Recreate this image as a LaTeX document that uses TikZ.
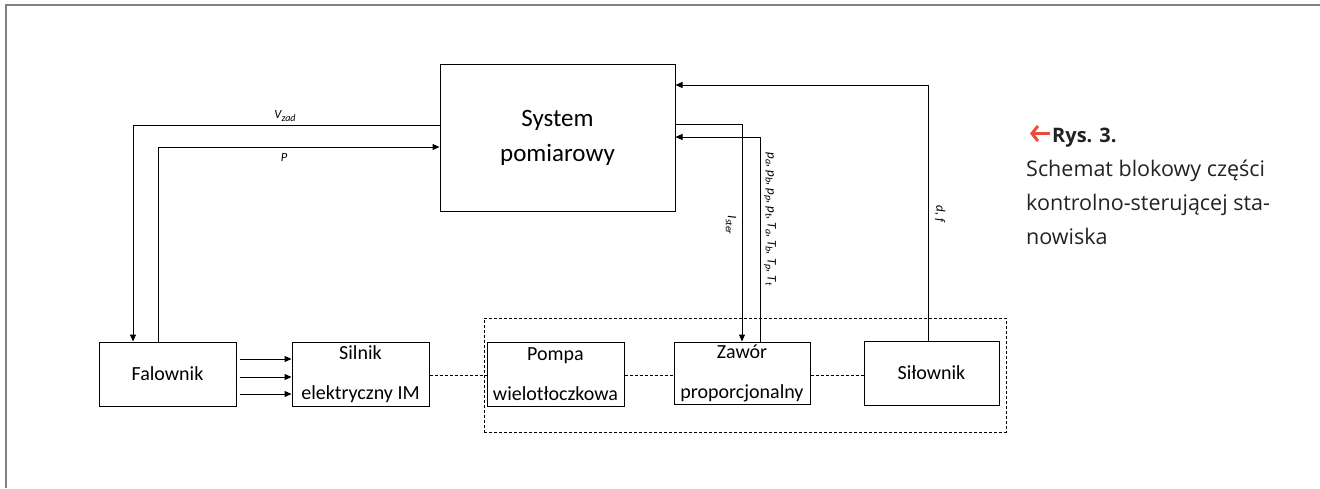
\documentclass[tikz,border=0pt]{standalone}
\usepackage{fontspec}
\setmainfont{Carlito}
\newfontfamily\capfont{Open Sans}
\usetikzlibrary{arrows.meta}
\definecolor{framegray}{RGB}{128,128,128}
\definecolor{capred}{RGB}{232,78,58}
\definecolor{captext}{RGB}{34,34,34}
\newcommand\lsub[1]{\raisebox{-2.2pt}{\fontsize{10}{10}\selectfont #1}}
\tikzset{
  blk/.style={draw, line width=1pt, inner sep=0pt, align=center},
  arr/.style={line width=1pt, -{Triangle[length=7pt,width=6pt]}},
  dsh/.style={line width=0.8pt, dash pattern=on 3pt off 2pt},
  lbl/.style={font=\itshape\fontsize{12.5}{14}\selectfont, inner sep=0pt},
  rlbl/.style={font=\itshape\fontsize{13}{15}\selectfont, inner sep=0pt, rotate=-90},
}
\begin{document}
\begin{tikzpicture}[x=1pt,y=-1pt]
\useasboundingbox (0,0) rectangle (1320,488);
\draw[framegray, line width=1.6pt] (6,488) -- (6,5) -- (1320,5);

% blocks
\node[blk, minimum width=235pt, minimum height=147pt, font=\fontsize{25}{35}\selectfont] (sys) at (557.5,137.5) {System\\pomiarowy};
\node[blk, minimum width=137pt, minimum height=64pt, font=\fontsize{20}{23}\selectfont] (fal) at (167.5,374) {Falownik};
\node[blk, minimum width=137pt, minimum height=64pt, font=\fontsize{20}{40}\selectfont] (sil) at (360.5,374) {Silnik\\elektryczny IM};
\node[blk, minimum width=137pt, minimum height=64pt, font=\fontsize{20}{40}\selectfont] (pom) at (555.5,374) {Pompa\\wielotłoczkowa};
\node[blk, minimum width=136pt, minimum height=62pt, font=\fontsize{20}{40}\selectfont] (zaw) at (742,373) {Zawór\\proporcjonalny};
\node[blk, minimum width=135pt, minimum height=64pt, font=\fontsize{20}{23}\selectfont] (sit) at (931.5,373) {Siłownik};
\node[dsh, draw, minimum width=522pt, minimum height=114pt, inner sep=0pt] (grp) at (745,375) {};

% bend points
\coordinate (vz) at (133,125);
\coordinate (pp) at (158,147);
\coordinate (is) at (742,124);
\coordinate (pa) at (760,137);
\coordinate (df) at (928,85);
\coordinate (dl) at (0,375);

% connectors
\draw[arr] (sys.west|-vz) -- (vz) -- (fal.north-|vz);
\draw[arr] (fal.north-|pp) -- (pp) -- (sys.west|-pp);
\foreach \dy in {-15,3,20}
  \draw[arr] ([shift={(3,\dy)}]fal.east) -- ([shift={(0,\dy)}]sil.west);
\draw[arr] (sys.east|-is) -- (is) -- (zaw.north-|is);
\draw[arr] (zaw.north-|pa) -- (pa) -- (sys.east|-pa);
\draw[arr] (sit.north-|df) -- (df) -- (sys.east|-df);
\draw[dsh] (sil.east|-dl) -- (pom.west|-dl);
\draw[dsh] (pom.east|-dl) -- (zaw.west|-dl);
\draw[dsh] (zaw.east|-dl) -- (sit.west|-dl);

% labels
\node[lbl] (lvz) at (285,116) {V\lsub{zad}};
\node[lbl] (lp) at (284,157) {P};
\node[rlbl] (lis) at (731,225) {I\lsub{ster}};
\node[rlbl] (lpa) at (770,219) {p\lsub{a}, p\lsub{b}, p\lsub{p}, p\lsub{t}, T\lsub{a}, T\lsub{b}, T\lsub{p}, T\lsub{t}};
\node[rlbl] (ldf) at (940,214) {d, f};

% caption
\draw[capred, line width=3pt, -{Straight Barb[length=6pt,width=15pt,line width=3pt]}] (1050,133.5) -- (1030,133.5);
\node[anchor=base west, inner sep=0pt, font=\capfont\bfseries\fontsize{20}{24}\selectfont, text=captext] (rys) at (1052,142) {Rys. 3.};
\node[anchor=base west, inner sep=0pt, align=left, font=\capfont\fontsize{21.5}{34}\selectfont, text=captext] (cap) at (1026,244) {Schemat blokowy części\\kontrolno-sterującej sta-\\nowiska};
\end{tikzpicture}
\end{document}
